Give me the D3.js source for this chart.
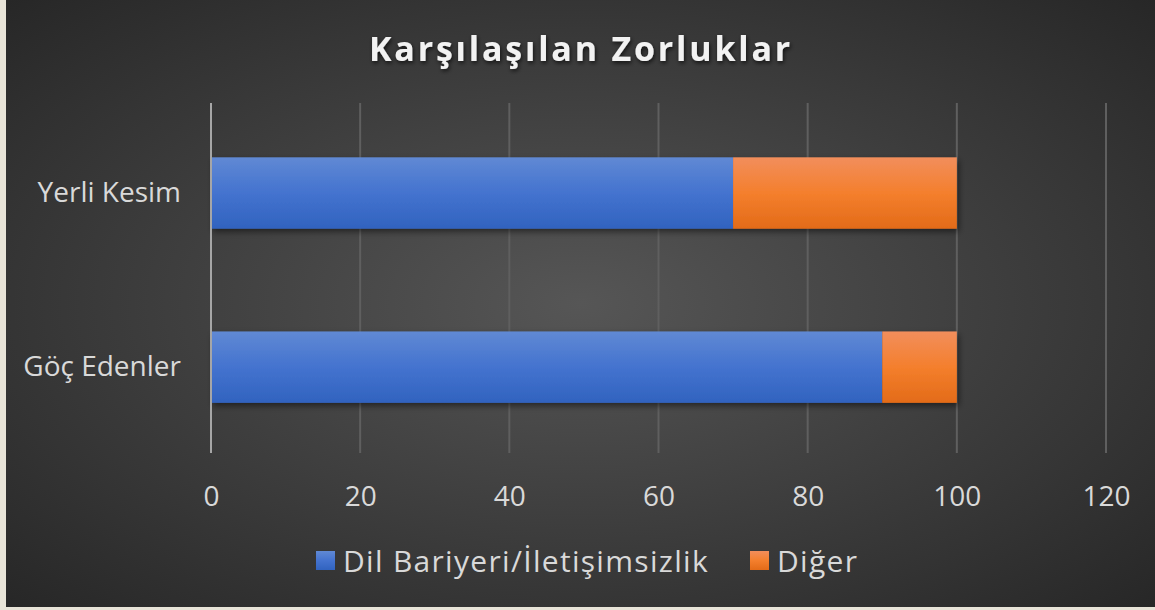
<!DOCTYPE html>
<html>
<head>
<meta charset="utf-8">
<script src="https://cdn.jsdelivr.net/npm/d3@7"></script>
<style>
  body { margin: 0; background: #e8e4d8; }
  svg { display: block; }
</style>
</head>
<body>
<div id="chart-area"></div>
<script>
var categories = ["Yerli Kesim", "Göç Edenler"];
var seriesNames = ["Dil Bariyeri/İletişimsizlik", "Diğer"];
var dilValues = [70, 90];
var digerValues = [30, 10];
var xTicks = [0, 20, 40, 60, 80, 100, 120];

var W = 1155, H = 610;
var margin = { left: 211, right: 49, top: 103, bottom: 157 };
var width = W - margin.left - margin.right;
var height = H - margin.top - margin.bottom;

var svg = d3.select("#chart-area")
  .append("svg")
  .attr("width", W)
  .attr("height", H);

var defs = svg.append("defs");

var bg = defs.append("radialGradient")
  .attr("id", "bg")
  .attr("cx", "50%").attr("cy", "50%").attr("r", "75%");
bg.append("stop").attr("offset", "0%").attr("stop-color", "#565656");
bg.append("stop").attr("offset", "100%").attr("stop-color", "#242424");

var blueGrad = defs.append("linearGradient")
  .attr("id", "blueGrad").attr("x1", 0).attr("y1", 0).attr("x2", 0).attr("y2", 1);
blueGrad.append("stop").attr("offset", "0%").attr("stop-color", "#6089d4");
blueGrad.append("stop").attr("offset", "50%").attr("stop-color", "#4473cf");
blueGrad.append("stop").attr("offset", "100%").attr("stop-color", "#3163bf");

var orangeGrad = defs.append("linearGradient")
  .attr("id", "orangeGrad").attr("x1", 0).attr("y1", 0).attr("x2", 0).attr("y2", 1);
orangeGrad.append("stop").attr("offset", "0%").attr("stop-color", "#f28e5c");
orangeGrad.append("stop").attr("offset", "50%").attr("stop-color", "#f47f2d");
orangeGrad.append("stop").attr("offset", "100%").attr("stop-color", "#e36b18");

var shadow = defs.append("filter").attr("id", "shadow")
  .attr("x", "-5%").attr("y", "-20%").attr("width", "110%").attr("height", "150%");
shadow.append("feDropShadow")
  .attr("dx", 2).attr("dy", 3).attr("stdDeviation", 3)
  .attr("flood-color", "#000").attr("flood-opacity", 0.5);

var titleShadow = defs.append("filter").attr("id", "titleShadow")
  .attr("x", "-10%").attr("y", "-30%").attr("width", "120%").attr("height", "160%");
titleShadow.append("feDropShadow")
  .attr("dx", 1).attr("dy", 2).attr("stdDeviation", 2)
  .attr("flood-color", "#000").attr("flood-opacity", 0.7);

// frame + background
svg.append("rect").attr("width", W).attr("height", H).attr("fill", "#e8e4d8");
svg.append("rect")
  .attr("x", 6).attr("y", 0)
  .attr("width", W - 6).attr("height", H - 3)
  .attr("fill", "url(#bg)");

var g = svg.append("g")
  .attr("transform", "translate(" + margin.left + "," + margin.top + ")");

var x = d3.scaleLinear().domain([0, 120]).range([0, width]);
var y = d3.scaleBand()
  .domain(categories)
  .range([0, height])
  .paddingInner(0.59)
  .paddingOuter(0.3)
  .align(0.52);

// grid lines
g.selectAll(".grid")
  .data(xTicks.slice(1))
  .enter()
  .append("line")
  .attr("class", "grid")
  .attr("x1", function(d) { return x(d); })
  .attr("x2", function(d) { return x(d); })
  .attr("y1", 0)
  .attr("y2", height)
  .attr("stroke", "#5f5f5f")
  .attr("stroke-width", 2);

// x axis
var xAxisGroup = g.append("g")
  .attr("transform", "translate(0," + height + ")")
  .call(d3.axisBottom(x).tickValues(xTicks).tickSize(0).tickPadding(33));
xAxisGroup.select(".domain").remove();
xAxisGroup.selectAll("text")
  .attr("fill", "#d9d9d9")
  .attr("font-family", "'Open Sans', sans-serif")
  .attr("font-size", "28px");

// y axis
var yAxisGroup = g.append("g")
  .call(d3.axisLeft(y).tickSize(0).tickPadding(30));
yAxisGroup.select(".domain").remove();
yAxisGroup.selectAll("text")
  .attr("fill", "#d9d9d9")
  .attr("font-family", "'Open Sans', sans-serif")
  .attr("font-size", "28px");

// bars
var stacked = categories.map(function(c, i) {
  return [
    { cat: c, x0: 0, x1: dilValues[i], fill: "url(#blueGrad)" },
    { cat: c, x0: dilValues[i], x1: dilValues[i] + digerValues[i], fill: "url(#orangeGrad)" }
  ];
});

var barRows = g.selectAll(".bar-row")
  .data(stacked)
  .enter()
  .append("g")
  .attr("class", "bar-row")
  .attr("filter", "url(#shadow)");

barRows.selectAll("rect")
  .data(function(d) { return d; })
  .enter()
  .append("rect")
  .attr("x", function(d) { return x(d.x0); })
  .attr("width", function(d) { return x(d.x1) - x(d.x0); })
  .attr("y", function(d) { return y(d.cat); })
  .attr("height", y.bandwidth())
  .attr("fill", function(d) { return d.fill; });

// zero axis line
g.append("line")
  .attr("x1", x(0)).attr("x2", x(0))
  .attr("y1", 0).attr("y2", height)
  .attr("stroke", "#a6a6a6")
  .attr("stroke-width", 2);

// title
svg.append("text")
  .attr("x", 581)
  .attr("y", 61)
  .attr("text-anchor", "middle")
  .attr("font-family", "'Open Sans', sans-serif")
  .attr("font-weight", "bold")
  .attr("font-size", "34px")
  .attr("letter-spacing", "2.8px")
  .attr("fill", "#f2f2f2")
  .attr("filter", "url(#titleShadow)")
  .text("Karşılaşılan Zorluklar");

// legend
var legendX = [316, 750];
var legendColors = ["url(#blueGrad)", "url(#orangeGrad)"];
var legend = svg.selectAll(".legend")
  .data(seriesNames)
  .enter()
  .append("g")
  .attr("class", "legend")
  .attr("transform", function(d, i) {
    return "translate(" + legendX[i] + ",551)";
  });

legend.append("rect")
  .attr("width", 19)
  .attr("height", 19)
  .attr("fill", function(d, i) { return legendColors[i]; });

legend.append("text")
  .attr("x", 27)
  .attr("y", 21)
  .attr("fill", "#d9d9d9")
  .attr("font-family", "'Open Sans', sans-serif")
  .attr("font-size", "30px")
  .attr("letter-spacing", "1.3px")
  .text(function(d) { return d; });
</script>
</body>
</html>
